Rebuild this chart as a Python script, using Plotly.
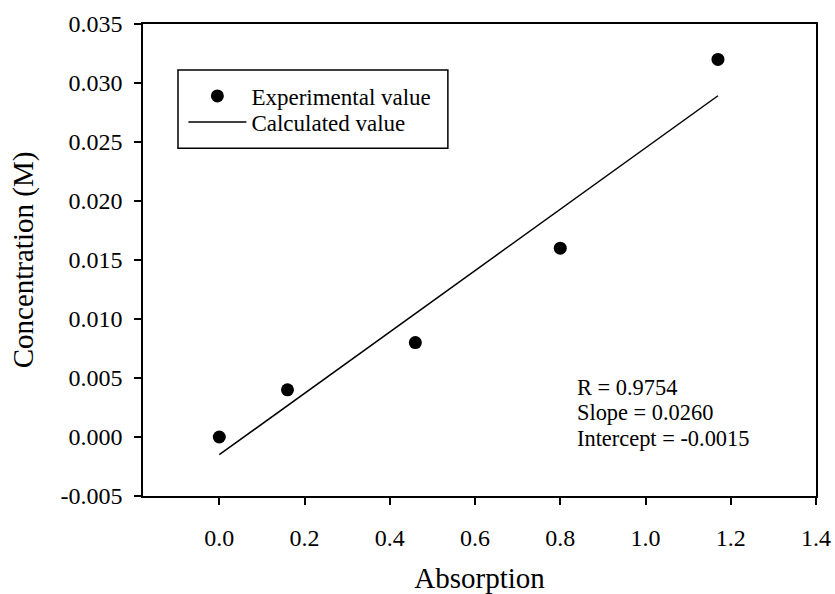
import plotly.graph_objects as go

# Measured points
absorption = [0.0, 0.16, 0.46, 0.80, 1.17]
concentration = [0.000, 0.004, 0.008, 0.016, 0.032]

# Linear fit parameters
r_value = 0.9754
slope = 0.0260
intercept = -0.0015

# Axis ticks
x_ticks = [0.0, 0.2, 0.4, 0.6, 0.8, 1.0, 1.2, 1.4]
y_ticks = [-0.005, 0.000, 0.005, 0.010, 0.015, 0.020, 0.025, 0.030, 0.035]

fit_x = [min(absorption), max(absorption)]
fit_y = [slope * x + intercept for x in fit_x]

FONT = "Times New Roman, Liberation Serif, serif"

fig = go.Figure()
fig.add_trace(go.Scatter(
    x=absorption, y=concentration, mode="markers",
    name="Experimental value", legend="legend",
    marker=dict(color="black", size=13),
))
fig.add_trace(go.Scatter(
    x=fit_x, y=fit_y, mode="lines",
    name="Calculated value", legend="legend2",
    line=dict(color="black", width=1.5),
))

# Legend frame
fig.add_shape(type="rect", xref="paper", yref="paper",
              x0=0.052, x1=0.453, y0=0.737, y1=0.9025,
              line=dict(color="black", width=1.5), fillcolor="rgba(0,0,0,0)")

# Fit statistics
stats_lines = [
    f"R = {r_value:.4f}",
    f"Slope = {slope:.4f}",
    f"Intercept = {intercept:.4f}",
]
stats_y = [0.230, 0.177, 0.122]
for txt, yy in zip(stats_lines, stats_y):
    fig.add_annotation(
        xref="paper", yref="paper", x=0.642, y=yy,
        xanchor="left", yanchor="middle", align="left", showarrow=False,
        text=txt, font=dict(family=FONT, size=22.4, color="black"),
    )

axis_common = dict(
    showgrid=False, zeroline=False, showline=True, mirror=True,
    linecolor="black", linewidth=1.5, ticks="outside", tickcolor="black",
    tickwidth=1.5, ticklen=7, automargin=False,
    tickfont=dict(family=FONT, size=24, color="black"),
)

legend_common = dict(
    xanchor="left", yanchor="middle",
    bgcolor="rgba(0,0,0,0)", borderwidth=0,
    font=dict(family=FONT, size=23, color="black"),
    itemwidth=58,
)

fig.update_layout(
    width=835, height=594,
    margin=dict(l=143, r=19, t=24, b=98, autoexpand=False),
    paper_bgcolor="white", plot_bgcolor="white",
    showlegend=True,
    legend=dict(x=0.060, y=0.8475, **legend_common),
    legend2=dict(x=0.060, y=0.7924, **legend_common),
    xaxis=dict(
        range=[-0.179, 1.4], tickvals=x_ticks,
        ticktext=[f"{v:.1f}" for v in x_ticks], ticklabelstandoff=12,
        title=dict(text="Absorption", font=dict(family=FONT, size=29, color="black"),
                   standoff=18),
        **axis_common,
    ),
    yaxis=dict(
        range=[-0.005, 0.035], tickvals=y_ticks,
        ticktext=[f"{v:.3f}" for v in y_ticks],
        ticklabelstandoff=7,
        title=dict(text="Concentration (M)", font=dict(family=FONT, size=29, color="black"),
                   standoff=18),
        **axis_common,
    ),
)

fig.write_html("out.html")
